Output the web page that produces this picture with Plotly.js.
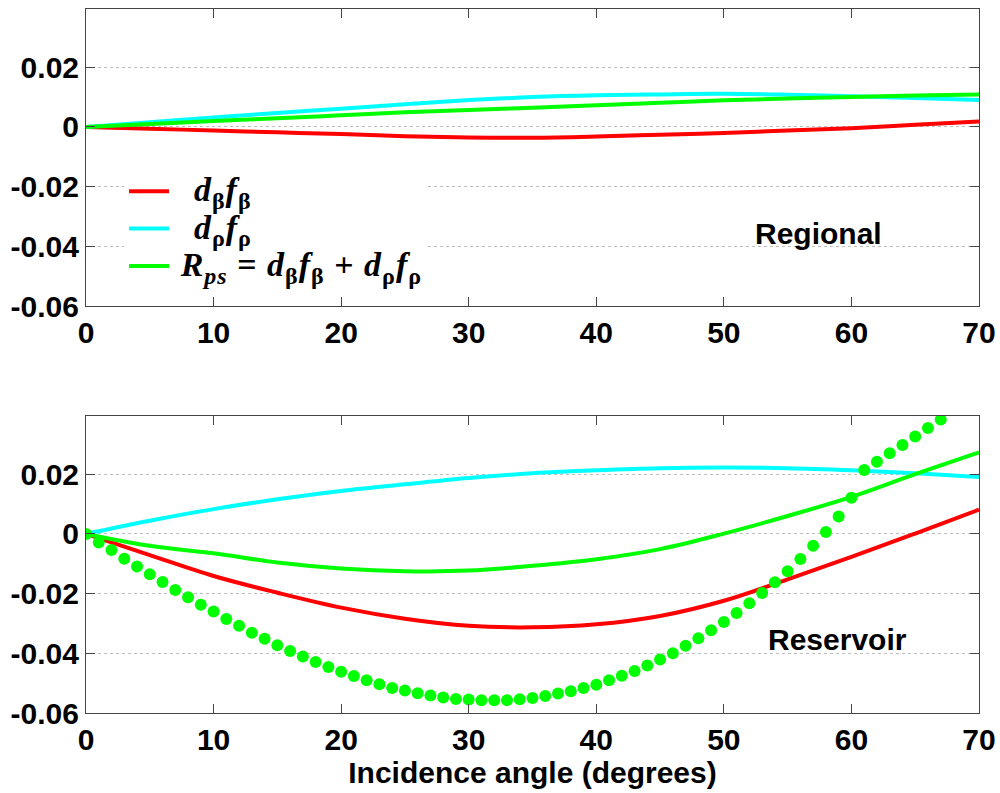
<!DOCTYPE html>
<html>
<head>
<meta charset="utf-8">
<script src="https://cdn.plot.ly/plotly-3.0.1.min.js"></script>
<style>html,body{margin:0;padding:0;background:#fff;}</style>
</head>
<body>
<div id="chart" style="width:1000px;height:793px;"></div>
<script>
// Incidence angles (degrees) for the solid curves
const angles = [0, 5, 10, 15, 20, 25, 30, 35, 40, 45, 50, 55, 60, 65, 70];

// Regional (top panel)
const regionalDbFb = [0, -0.0006, -0.0012, -0.0018, -0.0024, -0.0031, -0.0035, -0.0036, -0.0032, -0.0026, -0.0020, -0.0012, -0.0004, 0.0007, 0.0018];
const regionalDrFr = [0, 0.0016, 0.0032, 0.0047, 0.0061, 0.0076, 0.0090, 0.0100, 0.0106, 0.0109, 0.0111, 0.0108, 0.0103, 0.0097, 0.0090];
const regionalRps  = [0, 0.0010, 0.0020, 0.0029, 0.0039, 0.0049, 0.0057, 0.0064, 0.0073, 0.0081, 0.0089, 0.0095, 0.0100, 0.0105, 0.0109];

// Reservoir (bottom panel)
const reservoirDbFb = [0, -0.0071, -0.0141, -0.0197, -0.0247, -0.0284, -0.0308, -0.0313, -0.0303, -0.0275, -0.0224, -0.0152, -0.0077, 0.0001, 0.0081];
const reservoirDrFr = [0, 0.0044, 0.0083, 0.0116, 0.0144, 0.0166, 0.0187, 0.0203, 0.0213, 0.0220, 0.0222, 0.0220, 0.0213, 0.0203, 0.0191];
const reservoirRps  = [0, -0.0040, -0.0065, -0.0096, -0.0116, -0.0125, -0.0123, -0.0107, -0.0085, -0.0051, 0.0001, 0.0060, 0.0124, 0.0200, 0.0273];

// Dotted green series (reservoir, one point per degree)
const dotAngles = [0,1,2,3,4,5,6,7,8,9,10,11,12,13,14,15,16,17,18,19,20,21,22,23,24,25,26,27,28,29,30,31,32,33,34,35,36,37,38,39,40,41,42,43,44,45,46,47,48,49,50,51,52,53,54,55,56,57,58,59,60,61,62,63,64,65,66,67];
const dotValues = [0, -0.0029, -0.0054, -0.0083, -0.0109, -0.0135, -0.0161, -0.0188, -0.0212, -0.0237,
  -0.0260, -0.0285, -0.0308, -0.0331, -0.0351, -0.0373, -0.0392, -0.0411, -0.0429, -0.0446,
  -0.0462, -0.0476, -0.0490, -0.0504, -0.0516, -0.0525, -0.0534, -0.0541, -0.0548, -0.0553,
  -0.0555, -0.0557, -0.0557, -0.0557, -0.0554, -0.0550, -0.0543, -0.0535, -0.0527, -0.0516,
  -0.0505, -0.0490, -0.0475, -0.0459, -0.0441, -0.0421, -0.0400, -0.0375, -0.0350, -0.0323,
  -0.0295, -0.0265, -0.0232, -0.0198, -0.0162, -0.0125, -0.0084, -0.0040, 0.0006, 0.0058,
  0.0121, 0.0214, 0.0242, 0.0270, 0.0298, 0.0326, 0.0355, 0.0383];

// Tick labels
const xTicks = [0, 10, 20, 30, 40, 50, 60, 70];
const yTickVals = [-0.06, -0.04, -0.02, 0, 0.02];
const yTickText = ['-0.06', '-0.04', '-0.02', '0', '0.02'];

// Legend labels (math-like rich text)
const sb = s => '<sub><span style="font-size:24px">' + s + '</span></sub>';
const mainOpen = '<span style="font-size:34px;letter-spacing:1px">';
const legendNames = [
  '\u00a0\u00a0\u00a0' + mainOpen + '<i>d</i>' + sb('β') + '<i>f</i>' + sb('β') + '</span>',
  '\u00a0\u00a0\u00a0' + mainOpen + '<i>d</i>' + sb('ρ') + '<i>f</i>' + sb('ρ') + '</span>',
  '\u00a0' + mainOpen + '<i>R</i>' + sb('<i>ps</i>') + ' = <i>d</i>' + sb('β') + '<i>f</i>' + sb('β') +
    ' + <i>d</i>' + sb('ρ') + '<i>f</i>' + sb('ρ') + '</span>'
];
const panelLabels = ['Regional', 'Reservoir'];
const xTitle = 'Incidence angle (degrees)';

const RED = '#ff0000', CYAN = '#00ffff', GREEN = '#00ff00';
const LW = 4;

const traces = [
  {x: angles, y: regionalDbFb, xaxis: 'x', yaxis: 'y', mode: 'lines', line: {color: RED, width: LW, shape: 'spline'}, name: legendNames[0]},
  {x: angles, y: regionalDrFr, xaxis: 'x', yaxis: 'y', mode: 'lines', line: {color: CYAN, width: LW, shape: 'spline'}, name: legendNames[1]},
  {x: angles, y: regionalRps, xaxis: 'x', yaxis: 'y', mode: 'lines', line: {color: GREEN, width: LW, shape: 'spline'}, name: legendNames[2]},
  {x: angles, y: reservoirDbFb, xaxis: 'x2', yaxis: 'y2', mode: 'lines', line: {color: RED, width: LW, shape: 'spline'}, showlegend: false},
  {x: angles, y: reservoirDrFr, xaxis: 'x2', yaxis: 'y2', mode: 'lines', line: {color: CYAN, width: LW, shape: 'spline'}, showlegend: false},
  {x: angles, y: reservoirRps, xaxis: 'x2', yaxis: 'y2', mode: 'lines', line: {color: GREEN, width: LW, shape: 'spline'}, showlegend: false},
  {x: dotAngles, y: dotValues, xaxis: 'x2', yaxis: 'y2', mode: 'markers', marker: {color: GREEN, size: 12}, showlegend: false, cliponaxis: true}
];

const tickFont = {family: 'Liberation Sans, Arial, sans-serif', size: 30, color: '#000', weight: 'bold'};

function xAxis(anchor) {
  return {
    anchor: anchor, domain: [0, 1], range: [0, 70],
    tickvals: xTicks, ticks: 'inside', ticklen: 9, tickcolor: '#444',
    showline: true, linecolor: '#444', linewidth: 1, mirror: 'ticks',
    showgrid: false, zeroline: false, tickfont: tickFont
  };
}
function yAxis(anchor, domain) {
  return {
    anchor: anchor, domain: domain, range: [-0.06, 0.0395],
    tickvals: yTickVals, ticktext: yTickText, ticks: 'inside', ticklen: 9, tickcolor: '#444',
    showline: true, linecolor: '#444', linewidth: 1, mirror: 'ticks',
    showgrid: true, gridcolor: '#bdbdbd', griddash: 'dot', gridwidth: 1,
    zeroline: false, tickfont: tickFont
  };
}

const xa2 = xAxis('y2');
xa2.title = {text: xTitle, font: tickFont, standoff: 6};

const layout = {
  width: 1000, height: 793,
  margin: {l: 86, r: 21, t: 9, b: 80},
  paper_bgcolor: '#fff', plot_bgcolor: '#fff',
  xaxis: xAxis('y'),
  yaxis: yAxis('x', [0.578, 1]),
  xaxis2: xa2,
  yaxis2: yAxis('x2', [0, 0.4219]),
  showlegend: true,
  legend: {
    x: 0.0426, y: 0.775, xanchor: 'left', yanchor: 'top',
    bgcolor: '#fff', borderwidth: 0, itemwidth: 40,
    font: {family: 'Liberation Serif, Times New Roman, serif', size: 26.5, color: '#000', weight: 'bold'},
    tracegroupgap: 0
  },
  annotations: [
    {xref: 'x', yref: 'y', x: 57.4, y: -0.0357, text: panelLabels[0], showarrow: false,
     font: {family: 'Liberation Sans, Arial, sans-serif', size: 30, color: '#000', weight: 'bold'}},
    {xref: 'x2', yref: 'y2', x: 58.9, y: -0.0353, text: panelLabels[1], showarrow: false,
     font: {family: 'Liberation Sans, Arial, sans-serif', size: 30, color: '#000', weight: 'bold'}}
  ]
};

Plotly.newPlot('chart', traces, layout, {displayModeBar: false, staticPlot: true});
</script>
</body>
</html>
